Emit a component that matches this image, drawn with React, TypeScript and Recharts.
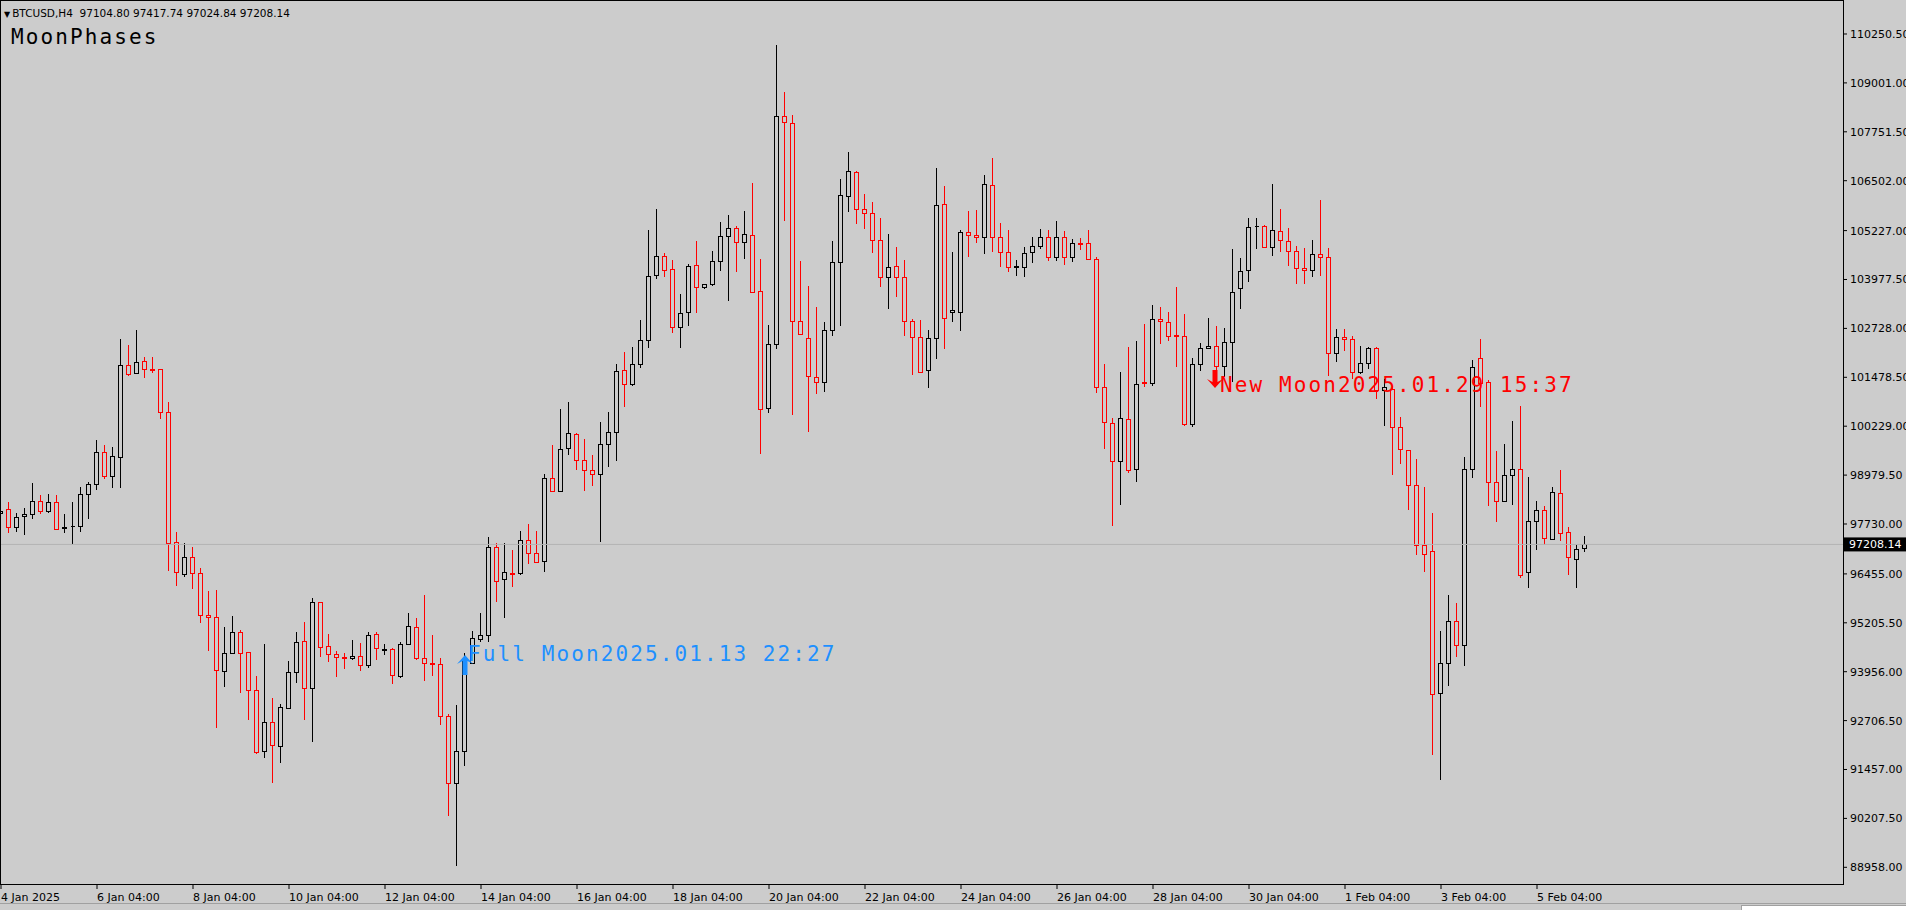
import React from 'react'
import { ComposedChart, Bar, XAxis, YAxis, ReferenceLine, ReferenceDot } from 'recharts'

const BG = '#cccccc'
const BULL = '#000000'
const BEAR = '#ff0000'

// BTCUSD H4 bars, first bar 4 Jan 2025 04:00
const opens = [
  98020, 98105, 97645, 97935, 97986, 98326, 98071, 98301, 97637, 97671,
  97688, 98488, 98744, 99561, 98965, 99451, 101793, 101580, 101887, 101691,
  101682, 100583, 97262, 96453, 96879, 96470, 95405, 95345, 93974, 94426,
  94979, 94451, 93489, 91930, 92680, 92058, 93037, 93940, 94749, 93531,
  95729, 94610, 94396, 94341, 94296, 94352, 94119, 94928, 94507, 94540,
  93853, 94651, 95094, 94318, 94174, 94152, 92823, 91105, 91936, 94186,
  94784, 94895, 97144, 96313, 96479, 96479, 97310, 97000, 96778, 98895,
  98585, 99660, 100025, 99360, 99105, 99006, 99781, 100081, 101654, 101300,
  101810, 102432, 104093, 104578, 104238, 102756, 103139, 104348, 103778, 103854,
  104459, 105089, 105285, 104945, 105115, 103684, 100686, 102321, 108155, 107968,
  102926, 102475, 101478, 101367, 102688, 104416, 106120, 106733, 105779, 105668,
  104987, 104050, 104323, 104033, 102917, 102517, 101665, 102475, 105898, 103139,
  103156, 105183, 105106, 105055, 106392, 105055, 104672, 104297, 104306, 104672,
  104842, 105072, 104561, 105055, 104561, 104910, 104902, 104493, 101222, 100302,
  99349, 100413, 99127, 101350, 101325, 102960, 102900, 102551, 102542, 100285,
  101810, 102219, 102287, 101776, 102372, 103752, 104220, 105336, 105353, 104816,
  105225, 104964, 104700, 104260, 104211, 104622, 104544, 102089, 102519, 102451,
  101620, 101835, 102226, 101160, 101180, 100202, 99615, 98735, 97200, 97044,
  93406, 94169, 95245, 94629, 99126, 101962, 101346, 98814, 98315, 98980,
  99126, 96516, 97806, 98100, 97347, 98510, 97513, 96848, 97104.8,
]
const highs = [
  98275, 98301, 98020, 98131, 98769, 98471, 98497, 98471, 97986, 98301,
  98684, 98812, 99877, 99749, 99689, 102457, 102304, 102687, 102006, 102006,
  101700, 100839, 97517, 97253, 97134, 96597, 96018, 96044, 95107, 95380,
  95022, 94468, 93846, 94664, 93276, 93123, 94230, 94962, 95235, 95831,
  95746, 94920, 94485, 94429, 94762, 94684, 94983, 94983, 94651, 94562,
  94706, 95460, 95316, 95925, 94895, 94318, 92878, 93100, 94429, 95006,
  95460, 97388, 97255, 97255, 97056, 97554, 97720, 97554, 99006, 99748,
  100657, 100856, 100059, 99892, 99493, 100335, 100601, 101820, 102131, 102241,
  102943, 105243, 105779, 104646, 104476, 103607, 104365, 104962, 103870, 104706,
  105456, 105626, 105345, 105728, 106435, 104502, 102815, 109970, 108760, 108181,
  104451, 103812, 103267, 102900, 104962, 106546, 107227, 106750, 106162, 105950,
  105558, 105140, 104817, 104476, 102968, 102943, 102688, 106818, 106367, 104672,
  105243, 105728, 105753, 106648, 107074, 105413, 105242, 104476, 104800, 105055,
  105259, 105242, 105472, 105217, 105012, 105029, 105242, 104561, 101810, 100447,
  101606, 102261, 102406, 102841, 103326, 103283, 103139, 103777, 103088, 101963,
  102346, 102985, 102789, 102747, 104748, 104518, 105557, 105540, 105370, 106409,
  105770, 105287, 104827, 104778, 104993, 106000, 104778, 102725, 102725, 102529,
  102275, 102255, 102255, 101424, 101258, 100466, 99630, 99390, 98686, 98002,
  95000, 95919, 95724, 99439, 101933, 102451, 101404, 99586, 99782, 100368,
  100740, 98931, 98315, 98178, 98686, 99107, 97660, 97190, 97417.74,
]
const lows = [
  97832, 97492, 97534, 97449, 97849, 97986, 98020, 97577, 97509, 97219,
  97534, 97858, 98599, 98880, 98659, 98659, 101520, 101554, 101469, 101580,
  100413, 96538, 96155, 96368, 96061, 95209, 94494, 92509, 93574, 94409,
  93404, 92722, 91845, 91743, 91121, 91615, 92995, 93676, 92722, 92169,
  94340, 94210, 93820, 94019, 94263, 93964, 94041, 94263, 94374, 93654,
  93787, 94628, 94263, 93731, 93853, 92601, 90274, 89000, 91548, 94152,
  94706, 94706, 95726, 95316, 96114, 96424, 96701, 96723, 96501, 98552,
  98552, 99493, 99117, 98563, 98695, 97277, 99194, 99327, 100723, 101266,
  101725, 102219, 103982, 104033, 102619, 102236, 102798, 103113, 103727, 103820,
  104204, 103437, 104178, 104493, 103650, 99511, 100558, 102194, 105481, 100516,
  102560, 100090, 101044, 101112, 102543, 102798, 105711, 105387, 105260, 104663,
  103778, 103224, 103539, 102534, 101538, 101597, 101197, 101938, 102194, 102900,
  102670, 104561, 104919, 104621, 104689, 104306, 104178, 104076, 104033, 104408,
  104757, 104459, 104459, 104348, 104433, 104731, 104476, 101086, 99647, 97688,
  98216, 99025, 98812, 101222, 101265, 102330, 102415, 101750, 100243, 100217,
  101648, 102193, 101665, 101495, 101367, 103215, 103922, 104757, 104800, 104578,
  104689, 104328, 103869, 103869, 104035, 104064, 101503, 101864, 102158, 101424,
  101571, 101688, 100935, 100222, 98980, 99273, 98100, 96926, 96516, 91822,
  91187, 93602, 94335, 94110, 98902, 100710, 98178, 97787, 98300, 98227,
  96359, 96095, 97073, 97200, 97317, 97288, 96438, 96095, 97024.84,
]
const closes = [
  98071, 97645, 97918, 97986, 98326, 98071, 98301, 97602, 97654, 97688,
  98488, 98744, 99561, 98965, 99468, 101793, 101554, 101861, 101699, 101665,
  100583, 97236, 96495, 96879, 96470, 95405, 95345, 94000, 94426, 94962,
  94426, 93489, 91913, 92663, 92084, 93063, 93940, 94724, 93531, 95746,
  94579, 94400, 94341, 94318, 94352, 94119, 94895, 94562, 94529, 93875,
  94651, 95116, 94318, 94174, 94152, 92823, 91105, 91936, 94230, 94817,
  94895, 97144, 96280, 96501, 96457, 97310, 96978, 96756, 98917, 98585,
  99637, 100047, 99360, 99105, 99006, 99770, 100081, 101632, 101300, 101820,
  102432, 104067, 104578, 104221, 102773, 103113, 104323, 103778, 103854, 104451,
  105089, 105285, 104945, 105132, 103667, 100660, 102321, 108155, 107994, 102917,
  102577, 101512, 101350, 102688, 104416, 106137, 106750, 105779, 105668, 104987,
  104033, 104289, 104033, 102917, 102500, 101623, 102475, 105881, 103003, 103198,
  105183, 105106, 105055, 106409, 105072, 104689, 104306, 104314, 104646, 104842,
  105055, 104561, 105055, 104561, 104902, 104893, 104493, 101239, 100328, 99349,
  100430, 99110, 101299, 101333, 102960, 102926, 102542, 102534, 100285, 101810,
  102219, 102287, 101767, 102372, 103667, 104203, 105328, 105353, 104816, 105242,
  104987, 104700, 104260, 104211, 104622, 104544, 102089, 102519, 102451, 101620,
  101835, 102226, 101160, 101229, 100202, 99635, 98735, 97200, 96975, 93377,
  94169, 95245, 94629, 99146, 101747, 101327, 98814, 98315, 98980, 99146,
  96438, 97806, 98100, 97366, 98559, 97494, 96877, 97102, 97208.14,
]

const timeTicks = [0, 12, 24, 36, 48, 60, 72, 84, 96, 108, 120, 132, 144, 156, 168, 180, 192]
const timeLabels = [
  '4 Jan 2025', '6 Jan 04:00', '8 Jan 04:00', '10 Jan 04:00', '12 Jan 04:00', '14 Jan 04:00',
  '16 Jan 04:00', '18 Jan 04:00', '20 Jan 04:00', '22 Jan 04:00', '24 Jan 04:00', '26 Jan 04:00',
  '28 Jan 04:00', '30 Jan 04:00', '1 Feb 04:00', '3 Feb 04:00', '5 Feb 04:00',
]
const priceTicks = [
  110250.5, 109001, 107751.5, 106502, 105227, 103977.5, 102728, 101478.5, 100229,
  98979.5, 97730, 96455, 95205.5, 93956, 92706.5, 91457, 90207.5, 88958,
]
const lastPrice = 97208.14
const headerText = 'BTCUSD,H4  97104.80 97417.74 97024.84 97208.14'

const moonEvents = [
  { index: 58, price: 94408, text: 'Full Moon2025.01.13 22:27', color: '#1e90ff', up: true },
  { index: 152, price: 101282, text: 'New Moon2025.01.29 15:37', color: '#ff0000', up: false },
]

const candles = opens.map((o, i) => ({
  idx: i,
  open: o,
  high: highs[i],
  low: lows[i],
  close: closes[i],
  range: [lows[i], highs[i]],
}))

const monoFont = '"DejaVu Sans Mono", monospace'
const uiFont = '"DejaVu Sans", sans-serif'

function Candle(props: any) {
  const { x, y, width, height, payload } = props
  if (x == null || y == null || !payload) return null
  const { open, close, high, low } = payload
  const top = Math.min(y, y + height)
  const h = Math.abs(height)
  const toPx = (v: number) => top + ((high - v) / (high - low || 1)) * h
  const cx = Math.floor(x + width / 2) + 0.5
  const color = close >= open ? BULL : BEAR
  const yo = toPx(open)
  const yc = toPx(close)
  const bTop = Math.round(Math.min(yo, yc)) + 0.5
  const bBot = Math.round(Math.max(yo, yc)) + 0.5
  const wTop = Math.round(top)
  const wBot = Math.round(top + h)
  return (
    <g shapeRendering="crispEdges">
      <path d={`M${cx},${wTop} V${wBot}`} stroke={color} strokeWidth={1} />
      <path
        d={`M${cx - 2},${bTop} H${cx + 2} V${bBot} H${cx - 2} Z`}
        stroke={color}
        strokeWidth={1}
        fill={BG}
      />
    </g>
  )
}

function PriceTick(props: any) {
  const { x, y, payload } = props
  return (
    <text x={x} y={y} dy={4} fill="#000" fontSize={11} fontFamily={uiFont} textAnchor="start">
      {Number(payload.value).toFixed(2)}
    </text>
  )
}

function TimeTick(props: any) {
  const { x, y, payload } = props
  const k = timeTicks.indexOf(payload.value)
  return (
    <text x={x} y={y + 10} fill="#000" fontSize={11} fontFamily={uiFont} textAnchor="start">
      {k >= 0 ? timeLabels[k] : ''}
    </text>
  )
}

function PriceTag(props: any) {
  const vb = props.viewBox || {}
  const x = (vb.x || 0) + (vb.width || 0) + 1
  const y = vb.y || 0
  return (
    <g>
      <rect x={x} y={y - 7} width={62} height={14} fill="#000" />
      <text x={x + 5} y={y + 4} fill="#fff" fontSize={11} fontFamily={uiFont}>
        {lastPrice.toFixed(2)}
      </text>
    </g>
  )
}

function MoonMark(props: any) {
  const { cx, cy, ev } = props
  if (cx == null || cy == null) return null
  let arrow: string
  if (ev.up) {
    const t = cy + 1
    arrow = `M${cx},${t} L${cx + 8},${t + 9} L${cx + 2.5},${t + 6} L${cx + 2.5},${t + 20} L${cx - 2.5},${t + 20} L${cx - 2.5},${t + 6} L${cx - 8},${t + 9} Z`
  } else {
    const b = cy + 3
    const ax = cx - 2
    arrow = `M${ax},${b} L${ax + 8},${b - 9} L${ax + 2.5},${b - 6} L${ax + 2.5},${b - 18} L${ax - 2.5},${b - 18} L${ax - 2.5},${b - 6} L${ax - 8},${b - 9} Z`
  }
  return (
    <g>
      <text
        x={cx + 3}
        y={cy + 7}
        fill={ev.color}
        fontSize={21}
        fontFamily={monoFont}
        letterSpacing={2.1}
      >
        {ev.text}
      </text>
      <path d={arrow} fill={ev.color} />
    </g>
  )
}

export default function App() {
  return (
    <div
      style={{
        position: 'fixed',
        left: 0,
        top: 0,
        width: 1906,
        height: 910,
        background: BG,
        overflow: 'hidden',
        fontFamily: uiFont,
      }}
    >
      <ComposedChart
        width={1906}
        height={910}
        data={candles}
        margin={{ top: 1, right: 0, bottom: 0, left: 0 }}
      >
        <XAxis
          type="number"
          dataKey="idx"
          domain={[-0.125, 230.25]}
          ticks={timeTicks}
          interval={0}
          allowDataOverflow
          height={25}
          tickSize={4}
          axisLine={false}
          stroke="#000"
          tick={(p: any) => <TimeTick {...p} />}
        />
        <YAxis
          orientation="right"
          type="number"
          domain={[88505.7, 111093.7]}
          ticks={priceTicks}
          interval={0}
          allowDataOverflow
          width={63}
          tickSize={4}
          tickMargin={3}
          axisLine={false}
          stroke="#000"
          tick={(p: any) => <PriceTick {...p} />}
        />
        <ReferenceLine
          y={lastPrice}
          stroke="#b4b4b4"
          strokeWidth={1}
          label={(p: any) => <PriceTag {...p} />}
        />
        {moonEvents.map((ev) => (
          <ReferenceDot
            key={ev.text}
            x={ev.index}
            y={ev.price}
            r={1}
            ifOverflow="visible"
            shape={(p: any) => <MoonMark {...p} ev={ev} />}
          />
        ))}
        <Bar dataKey="range" barSize={5} isAnimationActive={false} shape={(p: any) => <Candle {...p} />} />
      </ComposedChart>

      <div
        style={{
          position: 'absolute',
          left: 0,
          top: 0,
          width: 1844,
          height: 885,
          border: '1px solid #000',
          boxSizing: 'border-box',
          pointerEvents: 'none',
        }}
      />
      <div
        style={{
          position: 'absolute',
          left: 4,
          top: 6,
          fontSize: 10.5,
          fontFamily: uiFont,
          color: '#000',
          whiteSpace: 'pre',
          lineHeight: '14px',
        }}
      >
        <span style={{ fontSize: 8, marginRight: 2 }}>▼</span>
        {headerText}
      </div>
      <div
        style={{
          position: 'absolute',
          left: 11,
          top: 23,
          fontSize: 21,
          fontFamily: monoFont,
          letterSpacing: 2.1,
          color: '#000',
          lineHeight: '28px',
          whiteSpace: 'pre',
        }}
      >
        MoonPhases
      </div>
      <div style={{ position: 'absolute', left: 0, top: 903, width: 1906, height: 1, background: '#a0a0a0' }} />
      <div
        style={{
          position: 'absolute',
          left: 1741,
          top: 905,
          width: 170,
          height: 10,
          background: '#fff',
          borderTop: '1px solid #a0a0a0',
          borderLeft: '1px solid #a0a0a0',
        }}
      />
    </div>
  )
}
